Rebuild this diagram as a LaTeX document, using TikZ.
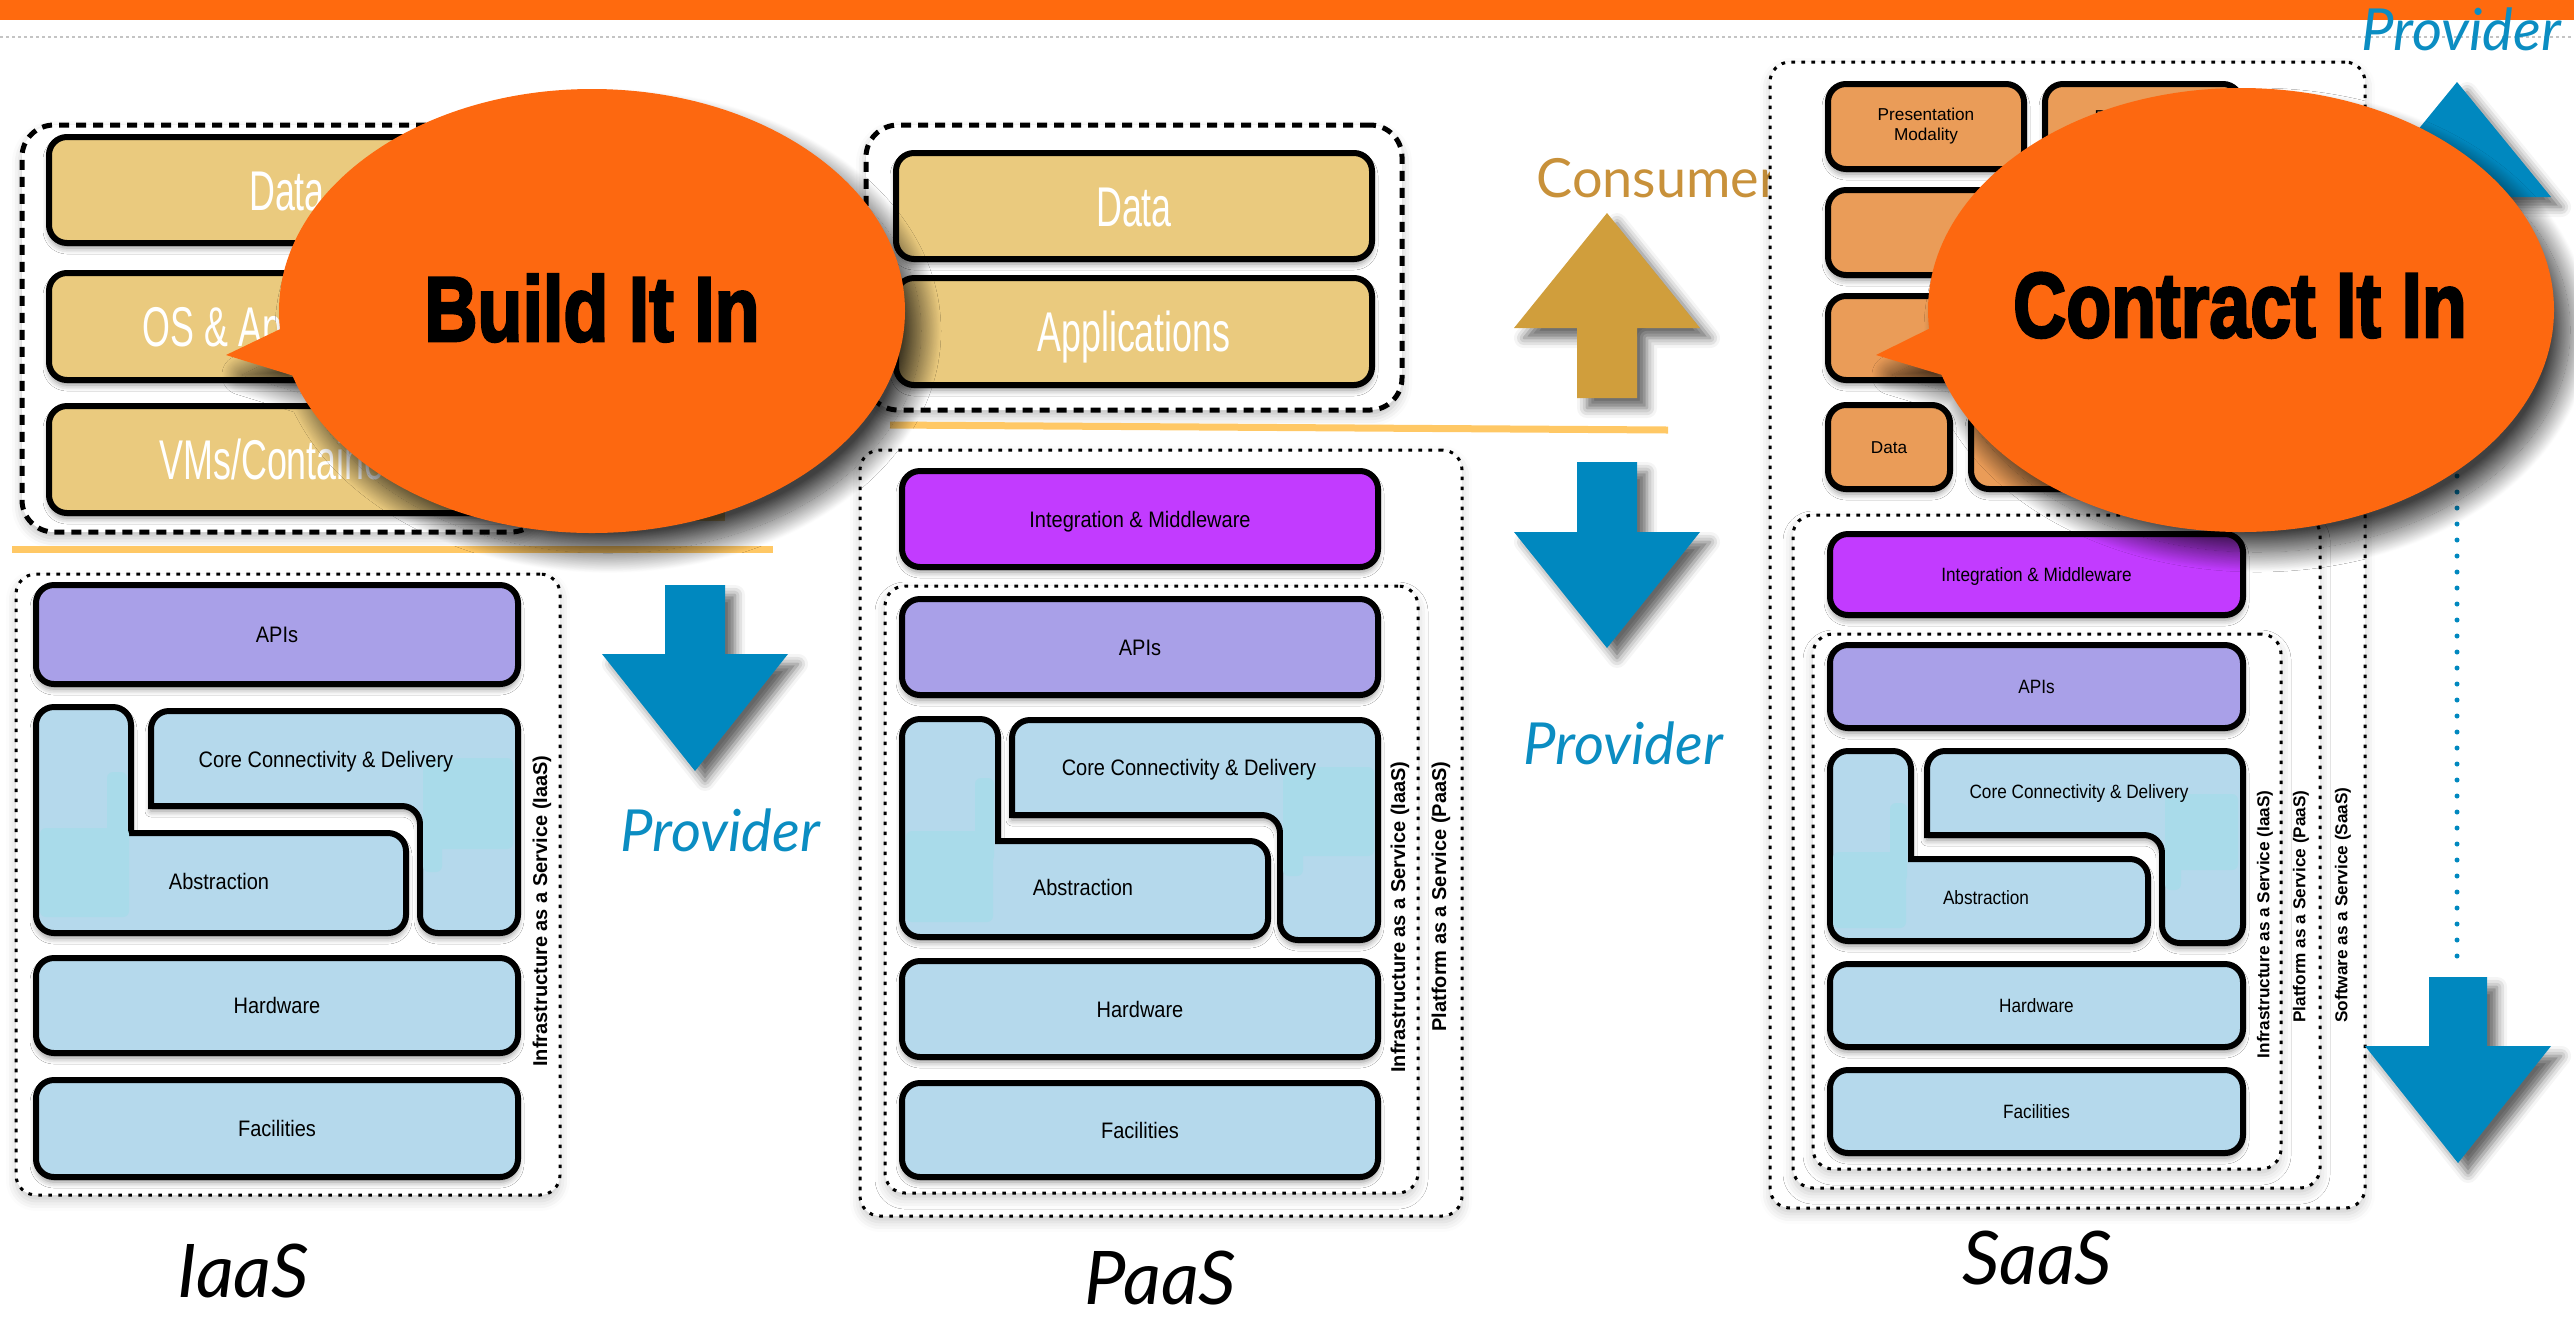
\documentclass[tikz,border=0pt]{standalone}
\usepackage{fontspec}
\usepackage{graphicx}
\setmainfont{Liberation Sans}
\newfontfamily\latofont{Lato}
\newfontfamily\heavyfont{Liberation Sans Bold}[FakeBold=3]
\usetikzlibrary{shadows.blur}

\definecolor{hdrorange}{HTML}{FF6A0E}
\definecolor{bubbleorange}{HTML}{FD6810}
\definecolor{goldbox}{HTML}{EACA7E}
\definecolor{goldline}{HTML}{FFC865}
\definecolor{goldarrow}{HTML}{D09E3C}
\definecolor{consumertxt}{HTML}{C8913A}
\definecolor{provblue}{HTML}{0088BF}
\definecolor{provtxt}{HTML}{0B8DC2}
\definecolor{lightblue}{HTML}{B5D9EC}
\definecolor{patchblue}{HTML}{A9DBEA}
\definecolor{lavender}{HTML}{A9A0E8}
\definecolor{midpurple}{HTML}{C23BFF}
\definecolor{saasorange}{HTML}{EA9C58}
\definecolor{dotgray}{HTML}{C4C4C4}

% text helpers: slightly tall layer captions, condensed consumer captions
\newcommand{\lyrtext}[1]{\scalebox{1}[1.12]{#1}}
\newcommand{\condtext}[1]{\scalebox{0.64}[1]{#1}}

\tikzset{
  layer/.style={draw=black, line width=3pt, rounded corners=9pt, inner sep=0pt,
    blur shadow={shadow xshift=0pt, shadow yshift=-2.5pt, shadow blur radius=3pt, shadow opacity=45}},
  piece/.style={draw=black, fill=lightblue, line width=3pt,
    blur shadow={shadow xshift=0pt, shadow yshift=-2.5pt, shadow blur radius=3pt, shadow opacity=45}},
  patch/.style={fill=patchblue, rounded corners=3pt},
  congroup/.style={draw=black, fill=white, line width=2.5pt, dash pattern=on 5pt off 3.5pt,
    rounded corners=16pt, inner sep=0pt,
    blur shadow={shadow xshift=0pt, shadow yshift=-3pt, shadow blur radius=5pt, shadow opacity=25}},
  provgroup/.style={draw=black, fill=white, line width=1.5pt, dash pattern=on 1.8pt off 3.2pt,
    rounded corners=10pt, inner sep=0pt,
    blur shadow={shadow xshift=0pt, shadow yshift=-3pt, shadow blur radius=5pt, shadow opacity=20}},
  ctext/.style={text=white, font=\fontsize{28}{30}\selectfont, text height=20pt, text depth=0pt},
  ltext/.style={font=\fontsize{10}{12}\selectfont, text height=8pt, text depth=0pt},
  stext/.style={font=\fontsize{8.6}{10}\selectfont, text height=6.9pt, text depth=0pt},
  ptext/.style={font=\fontsize{8.6}{10}\selectfont, align=center},
  vtext/.style={rotate=90, anchor=east, inner sep=0pt, font=\bfseries\fontsize{10}{12}\selectfont},
  vstext/.style={rotate=90, anchor=east, inner sep=0pt, font=\bfseries\fontsize{8.6}{10}\selectfont},
  arrowshadow/.style={blur shadow={shadow xshift=5pt, shadow yshift=-5pt, shadow blur radius=5pt, shadow opacity=60}},
  bubbleshadow/.style={blur shadow={shadow xshift=8pt, shadow yshift=-10pt, shadow blur radius=10pt,
    shadow blur steps=30, shadow opacity=75}},
  bubbletext/.style={anchor=base, inner sep=0pt, font=\heavyfont\fontsize{46}{50}\selectfont},
  provlbl/.style={anchor=base west, inner sep=0pt, text=provtxt, font=\latofont\itshape\fontsize{29}{32}\selectfont},
  conslbl/.style={anchor=base west, inner sep=0pt, text=consumertxt, font=\latofont\fontsize{27}{30}\selectfont},
  biglbl/.style={anchor=base west, inner sep=0pt, font=\latofont\itshape\fontsize{37}{40}\selectfont},
}

% box from outer corners (x0,y0)-(x1,y1), border of 6 units
\newcommand{\lbox}[7]{\node[#1, minimum width={(#5-#3-6)*0.5pt}, minimum height={(#6-#4-6)*0.5pt}] (#2) at ({(#3+#5)/2},{(#4+#6)/2}) {#7};}
\newcommand{\gbox}[6]{\node[#1, minimum width={(#5-#3-4)*0.5pt}, minimum height={(#6-#4-4)*0.5pt}] (#2) at ({(#3+#5)/2},{(#4+#6)/2}) {};}
% L-shaped abstraction piece: x0, top, vertical right, inner y, right, bottom
\newcommand{\abstractionL}[6]{%
  \draw[piece] (#1+3,#2+60) [rounded corners=9pt] -- (#1+3,#2+3) -- (#3-3,#2+3) [sharp corners] -- (#3-3,#4+3) [rounded corners=9pt] -- (#5-3,#4+3) -- (#5-3,#6-3) -- (#1+3,#6-3) -- cycle;}
% inverted-L connectivity piece: left, top, right, bar bottom, vertical left, bottom
\newcommand{\coreL}[6]{%
  \draw[piece] (#1+60,#2+3) [rounded corners=9pt] -- (#3-3,#2+3) -- (#3-3,#6-3) -- (#5+3,#6-3) -- (#5+3,#4-3) [sharp corners] -- (#1+3,#4-3) [rounded corners=9pt] -- (#1+3,#2+3) -- cycle;}
% block arrow: colour, centre x, shaft end, head base, tip, shaft half width, head half width
\newcommand{\fatarrow}[7]{%
  \fill[#1, arrowshadow] (#2-#6,#3) -- (#2+#6,#3) -- (#2+#6,#4) -- (#2+#7,#4) -- (#2,#5) -- (#2-#7,#4) -- (#2-#6,#4) -- cycle;}
% speech bubble: centre, tail tip
\newcommand{\bubble}[4]{%
  \path[bubbleshadow] (#1,#2) ellipse [x radius=156.5pt, y radius=111pt] (#3,#4) -- (#1-272,#2-1) -- (#1-262,#2+76) -- cycle;
  \fill[bubbleorange] (#1,#2) ellipse [x radius=156.5pt, y radius=111pt];
  \fill[bubbleorange] (#3,#4) -- (#1-272,#2-1) -- (#1-262,#2+76) -- cycle;}

\begin{document}
\begin{tikzpicture}[x=0.5pt, y=-0.5pt]
\useasboundingbox (0,0) rectangle (2574,1319);

% header band
\fill[hdrorange] (0,0) rectangle (2574,20);
\draw[dotgray, line width=1.2pt, dash pattern=on 1.5pt off 1.5pt] (0,37) -- (2574,37);

% ---------------- IaaS: consumer side ----------------
\gbox{congroup}{iaasCons}{20}{123}{545}{534}
\fill[goldbox] (560,470) rectangle (725,521);
\lbox{layer, fill=goldbox, ctext}{iaasData}{46}{134}{528}{246}{\condtext{Data}}
\lbox{layer, fill=goldbox, ctext}{iaasOS}{46}{270}{528}{383}{\condtext{OS \& Applications}}
\lbox{layer, fill=goldbox, ctext}{iaasVM}{46}{403}{528}{516}{\condtext{VMs/Containers}}
\draw[goldline, line width=3.5pt] (12,549) -- (773,549);

% ---------------- IaaS: provider side ----------------
\gbox{provgroup}{iaasProv}{14}{572}{562}{1197}
\lbox{layer, fill=lavender, ltext}{iaasAPI}{33}{582}{521}{687}{\lyrtext{APIs}}
\abstractionL{33}{704}{134}{830}{409}{936}
\coreL{148}{708}{521}{809}{417}{936}
\fill[patch] (40,828) rectangle (129,917);
\fill[patch] (107,772) rectangle (127,860);
\fill[patch] (423,758) rectangle (513,849);
\fill[patch] (423,788) rectangle (442,872);
\node[ltext] (iaasCoreT) at (326,759) {\lyrtext{Core Connectivity \& Delivery}};
\node[ltext] (iaasAbsT) at (219,881) {\lyrtext{Abstraction}};
\lbox{layer, fill=lightblue, ltext}{iaasHW}{33}{955}{521}{1056}{\lyrtext{Hardware}}
\lbox{layer, fill=lightblue, ltext}{iaasFac}{33}{1077}{521}{1180}{\lyrtext{Facilities}}
\node[vtext] (iaasLbl) at (542,755) {Infrastructure as a Service (IaaS)};

\fatarrow{provblue}{695}{585}{654}{771}{30}{93}
\node[provlbl] (provLeft) at (620,851) {Provider};
\node[biglbl] (iaasName) at (177,1297) {IaaS};

% ---------------- PaaS: consumer side ----------------
\gbox{congroup}{paasCons}{864}{123}{1404}{412}
\lbox{layer, fill=goldbox, ctext}{paasData}{893}{150}{1375}{262}{\condtext{Data}}
\lbox{layer, fill=goldbox, ctext}{paasApps}{893}{275}{1375}{388}{\condtext{Applications}}
\draw[goldline, line width=3.5pt] (890,425) -- (1668,430);

% ---------------- PaaS: provider side ----------------
\gbox{provgroup}{paasProv}{858}{448}{1464}{1218}
\lbox{layer, fill=midpurple, ltext}{paasInt}{899}{468}{1381}{570}{\lyrtext{Integration \& Middleware}}
\gbox{provgroup}{paasIaaS}{883}{584}{1420}{1195}
\lbox{layer, fill=lavender, ltext}{paasAPI}{899}{596}{1381}{698}{\lyrtext{APIs}}
\abstractionL{899}{716}{1001}{838}{1271}{940}
\coreL{1009}{717}{1381}{818}{1277}{943}
\fill[patch] (906,831) rectangle (993,922);
\fill[patch] (975,778) rectangle (994,862);
\fill[patch] (1283,767) rectangle (1374,856);
\fill[patch] (1283,797) rectangle (1303,876);
\node[ltext] (paasCoreT) at (1189,767) {\lyrtext{Core Connectivity \& Delivery}};
\node[ltext] (paasAbsT) at (1083,887) {\lyrtext{Abstraction}};
\lbox{layer, fill=lightblue, ltext}{paasHW}{899}{958}{1381}{1060}{\lyrtext{Hardware}}
\lbox{layer, fill=lightblue, ltext}{paasFac}{899}{1080}{1381}{1180}{\lyrtext{Facilities}}
\node[vtext] (paasLblI) at (1400,761) {Infrastructure as a Service (IaaS)};
\node[vtext] (paasLblP) at (1441,761) {Platform as a Service (PaaS)};
\node[biglbl] (paasName) at (1084,1304) {PaaS};

% consumer / provider arrows in the middle
\node[conslbl] (consLbl) at (1536,197) {Consumer};
\fatarrow{goldarrow}{1607}{398}{328}{213}{30}{93}
\fatarrow{provblue}{1607}{462}{532}{648}{30}{93}
\node[provlbl] (provMid) at (1523,764) {Provider};

% ---------------- SaaS ----------------
\gbox{provgroup}{saasOuter}{1768}{60}{2367}{1210}
\lbox{layer, fill=saasorange, ptext}{saasPM}{1825}{81}{2027}{172}{Presentation\\Modality}
\lbox{layer, fill=saasorange, ptext}{saasPP}{2042}{81}{2244}{172}{Presentation\\Platform}
\lbox{layer, fill=saasorange}{saasAPIo}{1825}{187}{2244}{278}{}
\lbox{layer, fill=saasorange}{saasApps}{1825}{293}{2244}{383}{}
\lbox{layer, fill=saasorange, stext}{saasData}{1825}{402}{1953}{492}{Data}
\lbox{layer, fill=saasorange, stext}{saasMeta}{1968}{402}{2104}{492}{Metadata}
\lbox{layer, fill=saasorange}{saasCont}{2118}{402}{2244}{492}{}
\gbox{provgroup}{saasPaaS}{1791}{513}{2322}{1190}
\lbox{layer, fill=midpurple, stext}{saasInt}{1827}{531}{2246}{618}{\lyrtext{Integration \& Middleware}}
\gbox{provgroup}{saasIaaS}{1811}{632}{2283}{1171}
\lbox{layer, fill=lavender, stext}{saasAPI}{1827}{642}{2246}{731}{\lyrtext{APIs}}
\abstractionL{1827}{748}{1914}{856}{2151}{944}
\coreL{1924}{748}{2246}{838}{2159}{946}
\fill[patch] (1833,852) rectangle (1906,928);
\fill[patch] (1890,803) rectangle (1907,882);
\fill[patch] (2165,794) rectangle (2238,870);
\fill[patch] (2165,819) rectangle (2181,890);
\node[stext] (saasCoreT) at (2079,792) {\lyrtext{Core Connectivity \& Delivery}};
\node[stext] (saasAbsT) at (1986,898) {\lyrtext{Abstraction}};
\lbox{layer, fill=lightblue, stext}{saasHW}{1827}{961}{2246}{1050}{\lyrtext{Hardware}}
\lbox{layer, fill=lightblue, stext}{saasFac}{1827}{1067}{2246}{1156}{\lyrtext{Facilities}}
\node[vstext] (saasLblI) at (2265,790) {Infrastructure as a Service (IaaS)};
\node[vstext] (saasLblP) at (2301,790) {Platform as a Service (PaaS)};
\node[vstext] (saasLblS) at (2343,787) {Software as a Service (SaaS)};
\node[biglbl] (saasName) at (1962,1284) {SaaS};

% provider scale on the right
\fatarrow{provblue}{2457}{290}{197}{82}{29}{94}
\draw[provblue, line width=2.5pt, line cap=round, dash pattern=on 0pt off 8pt] (2457,300) -- (2457,962);
\fatarrow{provblue}{2458}{977}{1046}{1163}{29}{93}
\node[provlbl] (provTop) at (2361,50) {Provider};

% speech bubbles
\bubble{592}{311}{226}{355}
\node[bubbletext] (buildTxt) at (592,341) {\scalebox{0.8}[1]{Build It In}};
\bubble{2241}{310}{1876}{355}
\node[bubbletext] (contractTxt) at (2240,337) {\scalebox{0.8}[1]{Contract It In}};
\end{tikzpicture}
\end{document}
